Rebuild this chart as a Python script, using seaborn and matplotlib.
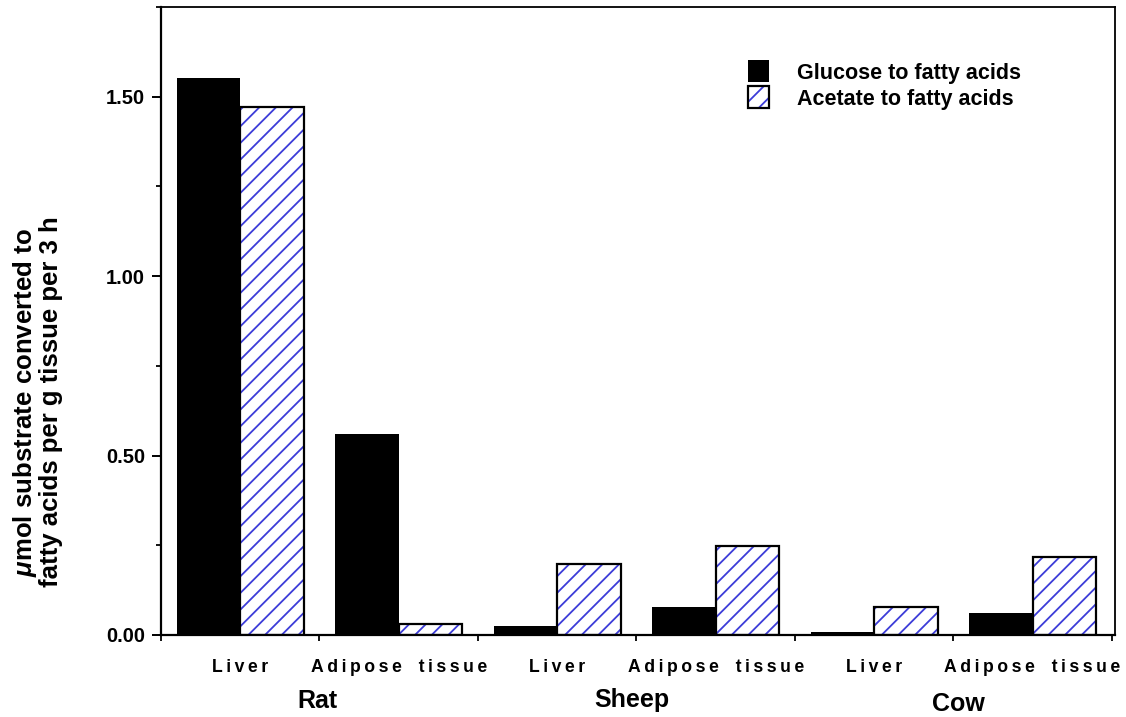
import matplotlib
matplotlib.use("Agg")
import matplotlib.pyplot as plt
import matplotlib.patches as mpatches
import matplotlib.transforms as mtransforms
from matplotlib.ticker import AutoMinorLocator, FormatStrFormatter, FixedLocator
import pandas as pd
import seaborn as sns

# data
tissues = ['Rat liver', 'Rat adipose', 'Sheep liver', 'Sheep adipose', 'Cow liver', 'Cow adipose']
tick_labels = ['Liver', 'Adipose tissue', 'Liver', 'Adipose tissue', 'Liver', 'Adipose tissue']
species = ['Rat', 'Sheep', 'Cow']
glucose = [1.552, 0.559, 0.025, 0.079, 0.007, 0.060]
acetate = [1.472, 0.030, 0.197, 0.247, 0.078, 0.216]
series = ['Glucose to fatty acids', 'Acetate to fatty acids']

df = pd.DataFrame({
    'Tissue': tissues * 2,
    'Substrate': [series[0]] * len(tissues) + [series[1]] * len(tissues),
    'Value': glucose + acetate,
})

sns.set_style('ticks')
plt.rcParams['font.family'] = ['Liberation Sans', 'DejaVu Sans']
plt.rcParams['font.weight'] = 'bold'
for key in ['text.color', 'axes.labelcolor', 'xtick.color', 'ytick.color', 'axes.edgecolor']:
    plt.rcParams[key] = 'black'
plt.rcParams['mathtext.fontset'] = 'custom'
plt.rcParams['mathtext.it'] = 'Liberation Sans:italic:bold'
plt.rcParams['mathtext.bf'] = 'Liberation Sans:bold'
plt.rcParams['mathtext.rm'] = 'Liberation Sans:bold'
plt.rcParams['hatch.linewidth'] = 1.3

hatch_blue = '#3c3cd8'

fig = plt.figure(figsize=(11.26, 7.17), dpi=100)
ax = fig.add_axes([161 / 1126, 82 / 717, 954 / 1126, 628 / 717])

sns.barplot(data=df, x='Tissue', y='Value', hue='Substrate', order=tissues,
            hue_order=series, palette={series[0]: 'black', series[1]: 'white'},
            width=0.8, linewidth=0, saturation=1, legend=False, ax=ax)

# hatched bars: blue hatch with a black outline drawn on top
for bar in ax.containers[1]:
    bar.set_hatch('//')
    bar.set_edgecolor(hatch_blue)
    bar.set_linewidth(0)
    ax.add_patch(mpatches.Rectangle(bar.get_xy(), bar.get_width(), bar.get_height(),
                                    fill=False, edgecolor='black', linewidth=1.6, zorder=3))

ax.set_xlim(-0.5, 5.52)
ax.set_ylim(0, 1.75)

ax.yaxis.set_major_locator(FixedLocator([0, 0.5, 1.0, 1.5]))
ax.yaxis.set_major_formatter(FormatStrFormatter('%.2f'))
ax.yaxis.set_minor_locator(AutoMinorLocator(2))
ax.tick_params(axis='y', which='major', length=6.5, width=1.4, labelsize=14.5, pad=5)
ax.tick_params(axis='y', which='minor', length=3.8, width=1.3)

# wide letter spacing like the original
def spaced(s):
    return '\u2009 \u2009 '.join('\u2009'.join(w) for w in s.split(' '))

ax.xaxis.set_major_locator(FixedLocator([i - 0.5 for i in range(len(tissues) + 1)]))
ax.xaxis.set_minor_locator(FixedLocator(list(range(len(tissues)))))
ax.set_xticklabels([], minor=False)
ax.set_xticklabels([spaced(t) for t in tick_labels], minor=True)
ax.tick_params(axis='x', which='major', length=4, width=1.3)
ax.tick_params(axis='x', which='minor', length=0, labelsize=12.7, pad=17)

for side in ['left', 'bottom']:
    ax.spines[side].set_linewidth(1.6)
for side in ['top', 'right']:
    ax.spines[side].set_visible(True)
    ax.spines[side].set_linewidth(1.3)

ax.set_xlabel('')
ax.set_ylabel('')

# species labels under the tissue labels
species_x = [0.485, 2.47, 4.53]
species_y = [0.012, 0.014, 0.008]
trans = mtransforms.blended_transform_factory(ax.transData, fig.transFigure)
for name, sx, sy in zip(species, species_x, species_y):
    ax.text(sx, sy, name, transform=trans, fontsize=18, fontweight='bold',
            ha='center', va='baseline')

fig.text(37 / 1126, 1 - 402 / 717,
         '$\\mu\\mathbf{mol\\ substrate\\ converted\\ to}$\nfatty acids per g tissue per 3 h',
         rotation=90, ha='center', va='center', fontsize=18.5, fontweight='bold',
         linespacing=1.0)

handles = [mpatches.Patch(facecolor='black', edgecolor='black', linewidth=0),
           (mpatches.Patch(facecolor='white', edgecolor=hatch_blue, hatch='//', linewidth=0),
            mpatches.Patch(fill=False, edgecolor='black', linewidth=1.6))]
ax.legend(handles, series, loc='upper left', bbox_to_anchor=(0.615, 0.915),
          frameon=False, borderpad=0, borderaxespad=0, fontsize=15.5,
          handlelength=1.0, handleheight=1.2, handletextpad=1.3, labelspacing=0.12)

fig.savefig('out.png', dpi=100)
